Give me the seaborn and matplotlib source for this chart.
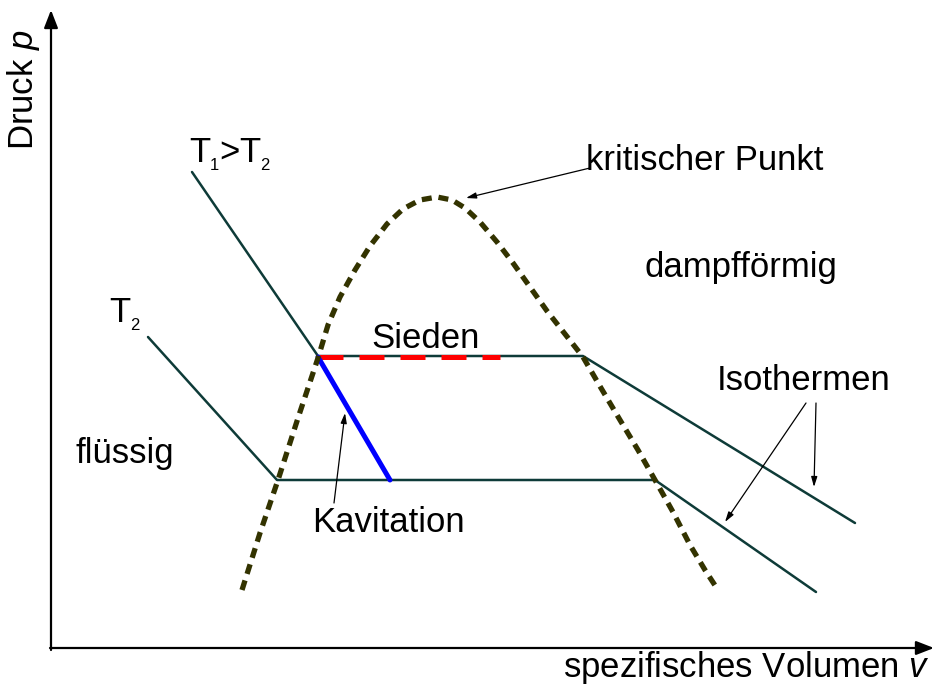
import numpy as np
import pandas as pd
import seaborn as sns
import matplotlib
matplotlib.use("Agg")
import matplotlib.pyplot as plt

sns.set_theme(style="white")
plt.rcParams['font.family'] = ['Liberation Sans', 'DejaVu Sans']
plt.rcParams['text.color'] = 'black'
plt.rcParams['mathtext.fontset'] = 'custom'
plt.rcParams['mathtext.rm'] = 'Liberation Sans'
plt.rcParams['mathtext.it'] = 'Liberation Sans:italic'

# Schematic p-v diagram (coordinates in picture units, y downward)
dome_x = [242, 260, 278, 298, 318, 328, 340, 355, 370, 387, 403, 420, 437, 452, 465, 480, 497, 513, 530, 547, 565, 583, 601, 620, 638, 655, 673, 690, 705, 718]
dome_y = [590, 533, 480, 418, 358, 325, 297, 270, 246, 224, 209, 200, 197, 200, 208, 222, 242, 263, 287, 311, 334, 357, 388, 420, 450, 480, 512, 545, 570, 590]

iso1_x = [192, 318, 583, 855]
iso1_y = [172, 356, 356, 523]
iso2_x = [148, 277, 655, 816]
iso2_y = [337, 480, 480, 592]

boil_x = [318, 500]
boil_y = [357, 357]
cav_x = [318, 390]
cav_y = [357, 480]

fig = plt.figure(figsize=(9.34, 6.86), dpi=100)
ax = fig.add_axes([0, 0, 1, 1])
ax.set_xlim(0, 934)
ax.set_ylim(686, 0)
ax.axis('off')

iso_color = '#0e3b38'
sns.lineplot(x=iso1_x, y=iso1_y, sort=False, ax=ax, color=iso_color, lw=1.8)
sns.lineplot(x=iso2_x, y=iso2_y, sort=False, ax=ax, color=iso_color, lw=1.8)
sns.lineplot(x=boil_x, y=boil_y, sort=False, ax=ax, color='#ff0000', lw=3.6,
             linestyle=(0, (5, 3.2)))
sns.lineplot(x=cav_x, y=cav_y, sort=False, ax=ax, color='#0000ff', lw=3.6)
sns.lineplot(x=dome_x, y=dome_y, sort=False, ax=ax, color='#333300', lw=3.8,
             linestyle=(0, (1.9, 1.3)))

# axes arrows
ax.annotate('', xy=(51, 10), xytext=(51, 650),
            arrowprops=dict(arrowstyle='-|>,head_length=0.9,head_width=0.35',
                            color='black', lw=1.6, shrinkA=0, shrinkB=0))
ax.annotate('', xy=(934, 648), xytext=(50, 648),
            arrowprops=dict(arrowstyle='-|>,head_length=0.9,head_width=0.35',
                            color='black', lw=1.6, shrinkA=0, shrinkB=0))

fs = 25
sub = 12
ax.text(24, 90, 'Druck $\\mathit{p}$', rotation=90, ha='center', va='center', fontsize=fs)
ax.text(930, 668, 'spezifisches Volumen $\\mathit{v}$', ha='right', va='center', fontsize=fs)
# T1>T2 with small, low subscripts
ax.text(189, 162, 'T', ha='left', va='baseline', fontsize=fs)
ax.text(210, 170, '1', ha='left', va='baseline', fontsize=sub)
ax.text(219, 162, '>', ha='left', va='baseline', fontsize=fs)
ax.text(239, 162, 'T', ha='left', va='baseline', fontsize=fs)
ax.text(260, 170, '2', ha='left', va='baseline', fontsize=sub)
# T2
ax.text(109, 322, 'T', ha='left', va='baseline', fontsize=fs)
ax.text(130, 330, '2', ha='left', va='baseline', fontsize=sub)

ax.text(371, 339, 'Sieden', ha='left', va='center', fontsize=fs)
ax.text(586, 160, 'kritischer Punkt', ha='left', va='center', fontsize=fs)
ax.text(645, 267, 'dampfförmig', ha='left', va='center', fontsize=fs)
ax.text(717, 381, 'Isothermen', ha='left', va='center', fontsize=fs)
ax.text(75, 453, 'flüssig', ha='left', va='center', fontsize=fs)
ax.text(312, 522, 'Kavitation', ha='left', va='center', fontsize=fs)

arr = dict(arrowstyle='-|>,head_length=0.5,head_width=0.15', color='black', lw=0.9,
           shrinkA=0, shrinkB=0)
ax.annotate('', xy=(466, 198), xytext=(590, 168), arrowprops=arr)
ax.annotate('', xy=(345, 413), xytext=(334, 503), arrowprops=arr)
ax.annotate('', xy=(814, 487), xytext=(816, 403), arrowprops=arr)
ax.annotate('', xy=(725, 522), xytext=(806, 403), arrowprops=arr)

fig.savefig('out.png', dpi=100)
